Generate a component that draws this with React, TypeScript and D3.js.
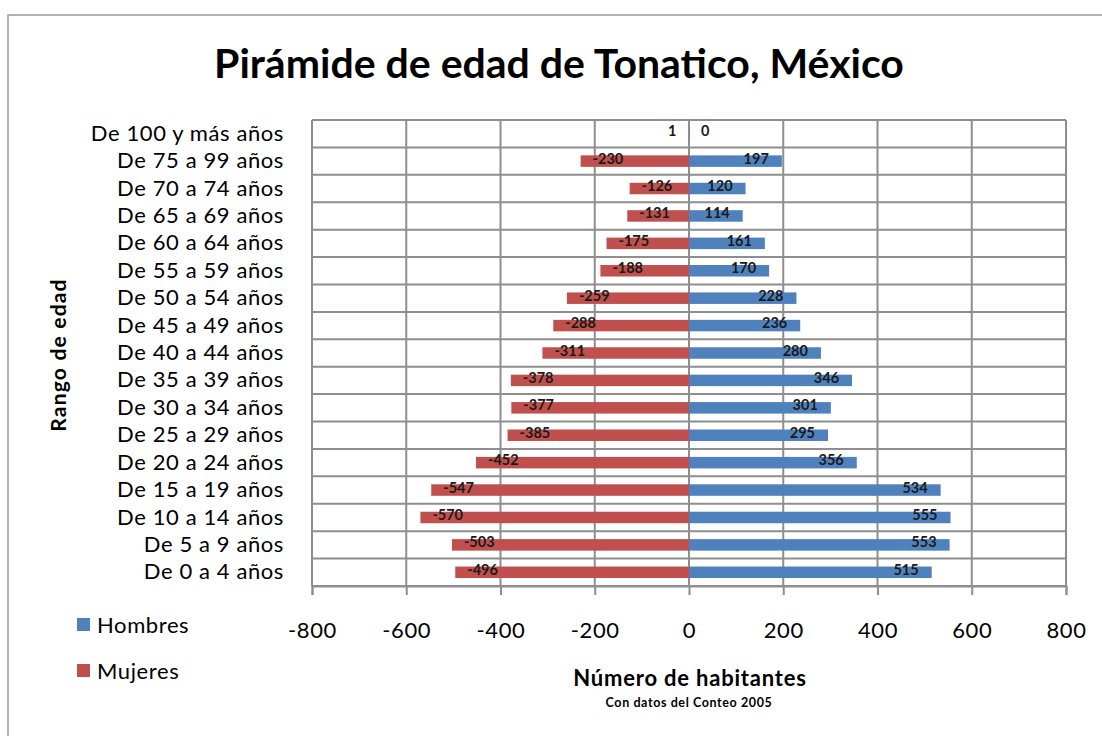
// @ts-nocheck
import React, { useEffect, useRef } from 'react';
import * as d3 from 'd3'

// age groups, bottom to top
const categories = [
    "De 0 a 4 años", "De 5 a 9 años", "De 10 a 14 años", "De 15 a 19 años",
    "De 20 a 24 años", "De 25 a 29 años", "De 30 a 34 años", "De 35 a 39 años",
    "De 40 a 44 años", "De 45 a 49 años", "De 50 a 54 años", "De 55 a 59 años",
    "De 60 a 64 años", "De 65 a 69 años", "De 70 a 74 años", "De 75 a 99 años",
    "De 100 y más años"
]
const hombres = [515, 553, 555, 534, 356, 295, 301, 346, 280, 236, 228, 170, 161, 114, 120, 197, 1]
const mujeres = [-496, -503, -570, -547, -452, -385, -377, -378, -311, -288, -259, -188, -175, -131, -126, -230, 0]
const xTicks = [-800, -600, -400, -200, 0, 200, 400, 600, 800]

const BLUE = "#4F81BD"
const RED = "#C0504D"
const GRID = "#8e8e8e"
const FONT = "Lato, 'Open Sans', sans-serif"

const drawChart = (node) => {
    const W = 1102, H = 736
    const margin = { top: 120, right: 36, bottom: 150, left: 312 }
    const width = 1066 - margin.left
    const height = 586 - margin.top

    const root = d3.select(node)
    root.selectAll("*").remove()

    const svg = root.append("svg")
        .attr("width", W)
        .attr("height", H)
        .style("display", "block")
        .style("font-family", FONT)

    svg.append("rect").attr("width", W).attr("height", H).attr("fill", "white")

    // chart border
    svg.append("rect")
        .attr("x", 8).attr("y", 15)
        .attr("width", 1110).attr("height", 740)
        .attr("fill", "none")
        .attr("stroke", "#9a9a9a")
        .attr("stroke-width", 1.5)

    // title
    svg.append("text")
        .attr("x", 559).attr("y", 78)
        .attr("text-anchor", "middle")
        .style("font-size", "41px")
        .style("font-weight", 700)
        .text("Pirámide de edad de Tonatico, México")

    const g = svg.append("g").attr("transform", `translate(${margin.left},${margin.top})`)

    const x = d3.scaleLinear().domain([-800, 800]).range([0, width])
    const y = d3.scaleBand().domain(categories.slice().reverse()).range([0, height]).paddingInner(0).paddingOuter(0)
    const barH = 11.5

    // horizontal gridlines at category boundaries
    const edges = d3.range(categories.length + 1).map(i => i * y.step())
    g.append("g").selectAll("line").data(edges).join("line")
        .attr("x1", 0).attr("x2", width)
        .attr("y1", d => d).attr("y2", d => d)
        .attr("stroke", GRID).attr("stroke-width", 2)

    // vertical gridlines
    g.append("g").selectAll("line").data(xTicks).join("line")
        .attr("x1", d => x(d)).attr("x2", d => x(d))
        .attr("y1", 0).attr("y2", height)
        .attr("stroke", GRID).attr("stroke-width", 2)

    // x axis
    const xAxis = g.append("g")
        .attr("transform", `translate(0, ${height})`)
        .call(d3.axisBottom(x).tickValues(xTicks).tickSize(9).tickPadding(27).tickFormat(d3.format("d")))
    xAxis.select(".domain").attr("stroke", GRID).attr("stroke-width", 2)
    xAxis.selectAll(".tick line").attr("stroke", GRID).attr("stroke-width", 2)
    xAxis.selectAll(".tick text")
        .attr("fill", "#000")
        .style("font-size", "22px")
        .style("letter-spacing", "0.6px")
        .style("font-family", FONT)
        .text(d => d < 0 ? "-" + Math.abs(d) : d)

    // y axis labels
    const yAxis = g.append("g")
        .call(d3.axisLeft(y).tickSize(0).tickPadding(28))
    yAxis.select(".domain").remove()
    yAxis.selectAll(".tick text")
        .attr("fill", "#000")
        .style("font-size", "22px")
        .style("letter-spacing", "0.6px")
        .style("font-family", FONT)

    const rows = categories.map((c, i) => ({ c, h: hombres[i], m: mujeres[i] }))

    // bars
    g.append("g").selectAll("rect").data(rows).join("rect")
        .attr("x", d => x(Math.min(0, d.m)))
        .attr("width", d => Math.abs(x(d.m) - x(0)))
        .attr("y", d => y(d.c) + y.bandwidth() / 2 - barH / 2)
        .attr("height", barH)
        .attr("fill", RED)
    g.append("g").selectAll("rect").data(rows).join("rect")
        .attr("x", d => x(0))
        .attr("width", d => x(d.h) - x(0))
        .attr("y", d => y(d.c) + y.bandwidth() / 2 - barH / 2)
        .attr("height", barH)
        .attr("fill", BLUE)

    // data labels (inside end)
    const lbl = (sel) => sel
        .attr("dominant-baseline", "central")
        .style("font-size", "14.5px")
        .style("font-weight", 700)
        .attr("fill", "#1a1a1a")
    g.append("g").selectAll("text").data(rows).join("text")
        .attr("x", d => x(d.m) + 12)
        .attr("y", d => y(d.c) + y.bandwidth() / 2 - 3)
        .attr("text-anchor", "start")
        .call(lbl)
        .text(d => d.m)
    g.append("g").selectAll("text").data(rows).join("text")
        .attr("x", d => x(d.h) - 13)
        .attr("y", d => y(d.c) + y.bandwidth() / 2 - 3)
        .attr("text-anchor", "end")
        .call(lbl)
        .text(d => d.h)

    // axis titles
    svg.append("text")
        .attr("transform", `translate(66, 355) rotate(-90)`)
        .attr("text-anchor", "middle")
        .style("font-size", "21px")
        .style("letter-spacing", "1.2px")
        .style("font-weight", 700)
        .text("Rango de edad")

    svg.append("text")
        .attr("x", 690).attr("y", 686)
        .attr("text-anchor", "middle")
        .style("font-size", "22px")
        .style("letter-spacing", "0.8px")
        .style("font-weight", 700)
        .text("Número de habitantes")
    svg.append("text")
        .attr("x", 689).attr("y", 707)
        .attr("text-anchor", "middle")
        .style("font-size", "12.5px")
        .style("letter-spacing", "0.6px")
        .style("font-weight", 700)
        .text("Con datos del Conteo 2005")

    // legend
    const legend = [{ name: "Hombres", color: BLUE }, { name: "Mujeres", color: RED }]
    const lg = svg.append("g").selectAll("g").data(legend).join("g")
        .attr("transform", (d, i) => `translate(77, ${618 + i * 46})`)
    lg.append("rect").attr("width", 13).attr("height", 13).attr("fill", d => d.color)
    lg.append("text")
        .attr("x", 20).attr("y", 6)
        .attr("dominant-baseline", "central")
        .style("font-size", "22px")
        .style("letter-spacing", "0.6px")
        .text(d => d.name)
}

export default function App() {
    const ref = useRef(null)
    useEffect(() => {
        drawChart(ref.current)
    }, [])
    return <div ref={ref} style={{ position: "absolute", left: 0, top: 0 }} />
}
